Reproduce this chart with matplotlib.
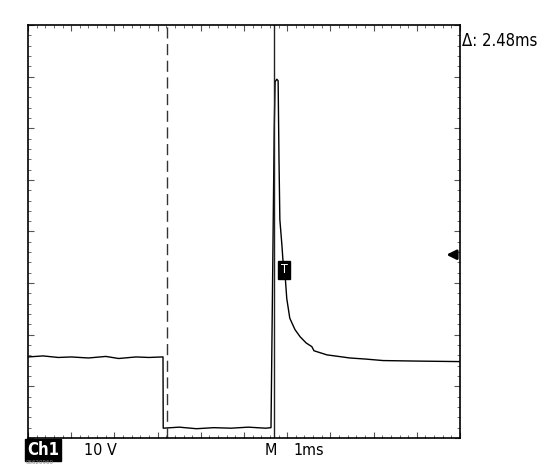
import numpy as np
import matplotlib
matplotlib.use('Agg')
import matplotlib.pyplot as plt
from matplotlib.ticker import MultipleLocator

# Traza del canal 1 (tiempo en ms, tensión en V, 1 ms/div y 10 V/div)
t_ms = [0.0, 0.35, 0.7, 1.0, 1.4, 1.8, 2.1, 2.5, 2.8, 3.1, 3.125,
        3.13, 3.5, 3.9, 4.3, 4.7, 5.1, 5.5, 5.625,
        5.70, 5.72, 5.76, 5.79, 5.81, 5.83, 5.88, 5.90, 5.95, 5.99, 6.06, 6.18,
        6.30, 6.44, 6.57, 6.62, 6.92, 7.10, 7.45, 7.80, 8.22, 9.0, 10.0]
v_volts = [15.7, 15.9, 15.6, 15.7, 15.5, 15.8, 15.4, 15.7, 15.6, 15.7, 15.7,
           1.9, 2.1, 1.8, 2.0, 1.9, 2.1, 1.9, 2.0,
           60.0, 69.0, 69.5, 69.2, 54.0, 42.3, 37.1, 34.6, 31.7, 27.0, 23.2, 21.0,
           19.6, 18.4, 17.7, 16.9, 16.1, 15.9, 15.5, 15.3, 15.0, 14.9, 14.8]

cursor_1 = 3.21   # cursor discontinuo
cursor_2 = 5.69   # cursor continuo
delta_text = 'Δ: 2.48ms'
trig_t, trig_v = 5.93, 32.6
trig_level = 35.5

fig = plt.figure(figsize=(5.44, 4.65), dpi=100)
ax = fig.add_axes([28 / 544, 27 / 465, 432 / 544, 413 / 465])
ax.set_xlim(0, 10)
ax.set_ylim(0, 80)

ax.plot(t_ms, v_volts, color='black', linewidth=1.0)
ax.axvline(cursor_1, color='#333333', linewidth=1.0, linestyle=(0, (8, 4)))
ax.axvline(cursor_2, color='#222222', linewidth=1.0)

# marcador de disparo
ax.text(trig_t, trig_v, 'T', color='white', fontsize=9, ha='center', va='center',
        fontstretch='condensed',
        bbox=dict(boxstyle='square,pad=0.2', fc='black', ec='black'))

# flecha del nivel de disparo
ax.annotate('', xy=(0.962, trig_level / 80), xytext=(0.995, trig_level / 80),
            xycoords='axes fraction', annotation_clip=False,
            arrowprops=dict(arrowstyle='-|>', color='black', lw=2, mutation_scale=14))

# ticks de la retícula en el borde
ax.xaxis.set_major_locator(MultipleLocator(1))
ax.xaxis.set_minor_locator(MultipleLocator(0.2))
ax.yaxis.set_major_locator(MultipleLocator(10))
ax.yaxis.set_minor_locator(MultipleLocator(2))
ax.tick_params(which='both', direction='in', top=True, right=True,
               labelbottom=False, labelleft=False, color='#555555')
ax.tick_params(which='major', length=4, width=0.8)
ax.tick_params(which='minor', length=2, width=0.6)
for s in ax.spines.values():
    s.set_linewidth(1.2)

kw = dict(family='DejaVu Sans', fontstretch='condensed', va='center', ha='left')
fig.text(27 / 544, 1 - 450 / 465, 'Ch1', color='white', fontsize=12,
         fontweight='bold', bbox=dict(boxstyle='square,pad=0.12', fc='black', ec='black'), **kw)
fig.text(84 / 544, 1 - 450 / 465, '10 V', fontsize=11.5, **kw)
fig.text(265 / 544, 1 - 450 / 465, 'M', fontsize=11.5, **kw)
fig.text(293 / 544, 1 - 450 / 465, '1ms', fontsize=11.5, **kw)
fig.text(462 / 544, 1 - 41 / 465, delta_text, fontsize=12, **kw)
fig.text(26 / 544, 1 - 462 / 465, '06620960', fontsize=4, color='#888888', va='center', ha='left')

fig.savefig('out.png', dpi=100)
